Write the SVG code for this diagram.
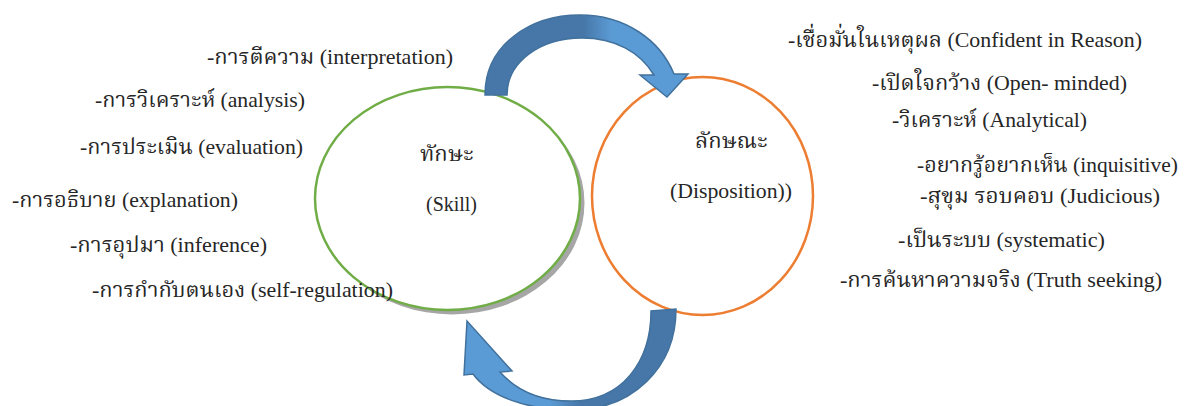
<svg xmlns="http://www.w3.org/2000/svg" width="1184" height="406" viewBox="0 0 1184 406">
<style>
text { font-family: "Liberation Serif", "Noto Serif Thai", "Noto Sans Thai", serif; font-size: 22px; fill: #262626; }
.mid { font-size: 21px; }
</style>
<defs>
<linearGradient id="gTop" gradientUnits="userSpaceOnUse" x1="485" y1="0" x2="690" y2="0">
<stop offset="0" stop-color="#4677a8"/>
<stop offset="0.48" stop-color="#4677a8"/>
<stop offset="0.62" stop-color="#5b9bd5"/>
<stop offset="1" stop-color="#5b9bd5"/>
</linearGradient>
<linearGradient id="gBot" gradientUnits="userSpaceOnUse" x1="676" y1="0" x2="464" y2="0">
<stop offset="0" stop-color="#4677a8"/>
<stop offset="0.45" stop-color="#4677a8"/>
<stop offset="0.6" stop-color="#5b9bd5"/>
<stop offset="1" stop-color="#5b9bd5"/>
</linearGradient>
</defs>
<g id="node-skill">
<ellipse cx="452" cy="203" rx="132.5" ry="111.5" fill="#a6a6a6"/>
<ellipse cx="447.5" cy="198.5" rx="132.5" ry="111.5" fill="#ffffff" stroke="#70ad47" stroke-width="2.5"/>
<text x="420" y="161">ทักษะ</text>
<text x="426" y="211" class="mid" textLength="51" lengthAdjust="spacingAndGlyphs">(Skill)</text>
</g>
<g id="node-disposition">
<ellipse cx="702.5" cy="196" rx="110.5" ry="119" fill="#ffffff" stroke="#ed7d31" stroke-width="2.5"/>
<text x="695" y="148">ลักษณะ</text>
<text x="670" y="198" class="mid" textLength="122" lengthAdjust="spacingAndGlyphs">(Disposition))</text>
</g>
<g id="connectors">
<path d="M485,95 C485,45 530,15 580,15 C625,15 660,40 674,74 L688,74 L667,97 L640,75 L654,75 C640,52 615,38 582,38 C540,38 507,62 507,95 Z" fill="url(#gTop)" stroke="#41719c" stroke-width="1.5" stroke-linejoin="miter"/>
<path d="M676,309 C676,368 632,410 572,410 C528,410 490,397 473,374 L464,375 L467,321 L512,371 L500,372 C516,390 540,401 571,401 C622,401 651,362 651,311 Z" fill="url(#gBot)" stroke="#41719c" stroke-width="1.5"/>
</g>
<g id="skill-items">
<text x="207" y="64" textLength="246" lengthAdjust="spacingAndGlyphs">-การตีความ (interpretation)</text>
<text x="95" y="107" textLength="210" lengthAdjust="spacingAndGlyphs">-การวิเคราะห์ (analysis)</text>
<text x="80" y="154" textLength="223" lengthAdjust="spacingAndGlyphs">-การประเมิน (evaluation)</text>
<text x="12" y="207" textLength="226" lengthAdjust="spacingAndGlyphs">-การอธิบาย (explanation)</text>
<text x="70" y="252" textLength="197" lengthAdjust="spacingAndGlyphs">-การอุปมา (inference)</text>
<text x="92" y="297" textLength="301" lengthAdjust="spacingAndGlyphs">-การกำกับตนเอง (self-regulation)</text>
</g>
<g id="disposition-items">
<text x="788" y="47" textLength="354" lengthAdjust="spacingAndGlyphs">-เชื่อมั่นในเหตุผล (Confident in Reason)</text>
<text x="872" y="90" textLength="255" lengthAdjust="spacingAndGlyphs">-เปิดใจกว้าง (Open- minded)</text>
<text x="892" y="127" textLength="195" lengthAdjust="spacingAndGlyphs">-วิเคราะห์ (Analytical)</text>
<text x="917" y="172" textLength="261" lengthAdjust="spacingAndGlyphs">-อยากรู้อยากเห็น (inquisitive)</text>
<text x="920" y="203" textLength="240" lengthAdjust="spacingAndGlyphs">-สุขุม รอบคอบ (Judicious)</text>
<text x="898" y="247" textLength="207" lengthAdjust="spacingAndGlyphs">-เป็นระบบ (systematic)</text>
<text x="840" y="287" textLength="322" lengthAdjust="spacingAndGlyphs">-การค้นหาความจริง (Truth seeking)</text>
</g>
</svg>
